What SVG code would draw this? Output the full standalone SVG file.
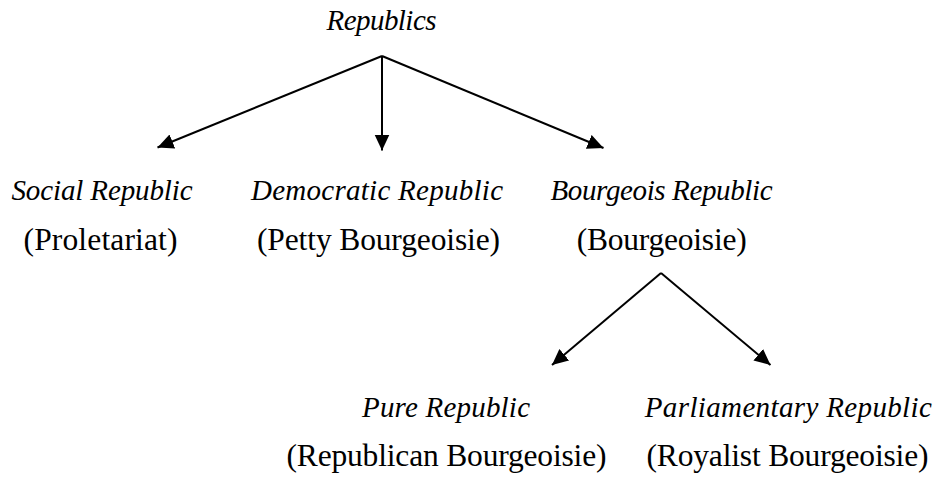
<svg xmlns="http://www.w3.org/2000/svg" width="936" height="479" viewBox="0 0 936 479">
<style>
  text { font-family: "Liberation Serif", "Times New Roman", serif; fill: #000; text-anchor: middle; }
  .i { font-style: italic; font-size: 29px; }
  .r { font-size: 31.5px; }
  .c { stroke: #000; stroke-width: 2; fill: none; marker-end: url(#ah); }
</style>
<defs>
  <marker id="ah" markerUnits="userSpaceOnUse" markerWidth="17" markerHeight="16" refX="16" refY="7.5" orient="auto">
    <path d="M0,0 L16,7.5 L0,15 z" fill="#000"/>
  </marker>
</defs>
<rect width="936" height="479" fill="#fff"/>
<g id="connectors">
  <line class="c" x1="382" y1="56" x2="157.5" y2="147.5"/>
  <line class="c" x1="382" y1="56" x2="382" y2="150.5"/>
  <line class="c" x1="382" y1="56" x2="603.5" y2="148"/>
  <line class="c" x1="661" y1="273" x2="552" y2="365"/>
  <line class="c" x1="661" y1="273" x2="770.5" y2="365"/>
</g>
<g id="republics">
  <text class="i" x="381.5" y="30" textLength="110">Republics</text>
</g>
<g id="social">
  <text class="i" x="102" y="200" textLength="181">Social Republic</text>
  <text class="r" x="100.5" y="250" textLength="154">(Proletariat)</text>
</g>
<g id="democratic">
  <text class="i" x="377" y="200" textLength="252">Democratic Republic</text>
  <text class="r" x="378.5" y="250" textLength="243">(Petty Bourgeoisie)</text>
</g>
<g id="bourgeois">
  <text class="i" x="661.5" y="200" textLength="222">Bourgeois Republic</text>
  <text class="r" x="661.7" y="250" textLength="170">(Bourgeoisie)</text>
</g>
<g id="pure">
  <text class="i" x="446" y="417" textLength="168">Pure Republic</text>
  <text class="r" x="446.5" y="466" textLength="320">(Republican Bourgeoisie)</text>
</g>
<g id="parliamentary">
  <text class="i" x="788.3" y="417" textLength="287">Parliamentary Republic</text>
  <text class="r" x="787.5" y="466" textLength="282">(Royalist Bourgeoisie)</text>
</g>
</svg>
